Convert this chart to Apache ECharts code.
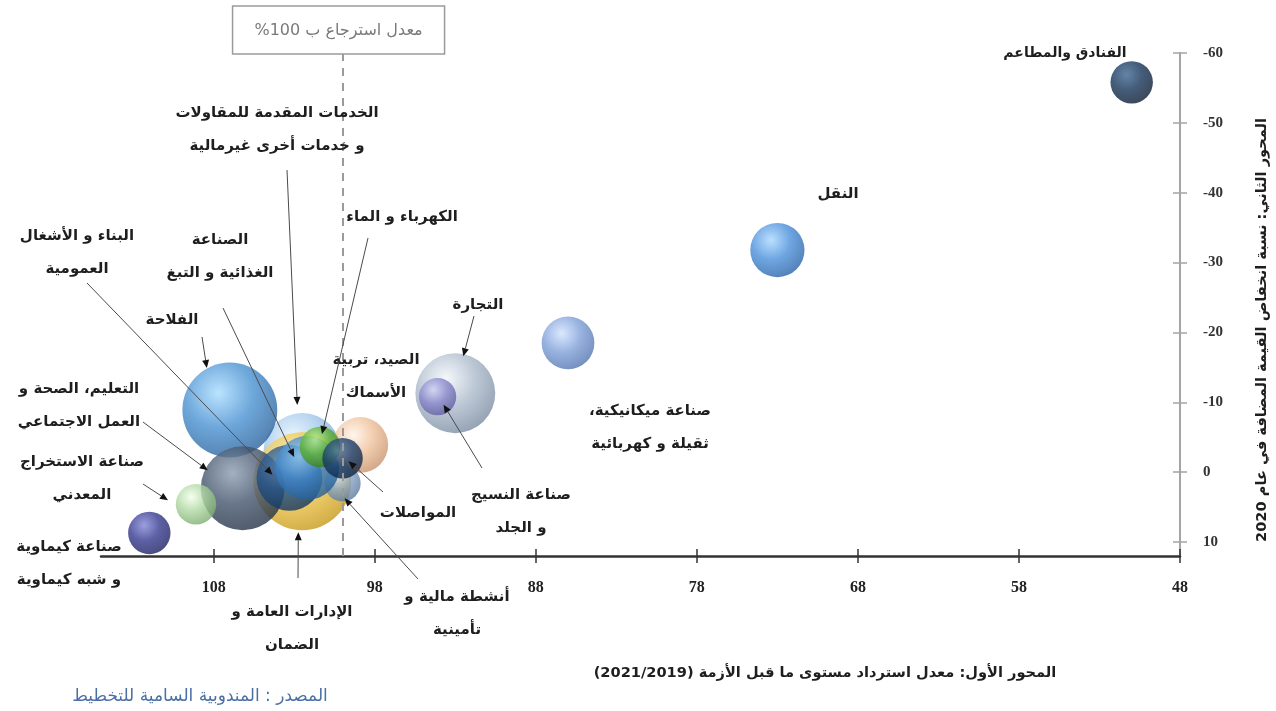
<!DOCTYPE html>
<html>
<head>
<meta charset="utf-8">
<script src="https://cdn.jsdelivr.net/npm/echarts@6/dist/echarts.min.js"></script>
<style>
  html, body { margin: 0; padding: 0; background: #ffffff; }
  #chart { width: 1276px; height: 711px; }
</style>
</head>
<body>
<div id="chart"></div>
<script>
// Sectors, listed in drawing order (back to front)
const sectors = [
  'الخدمات المقدمة للمقاولات\nو خدمات أخرى غيرمالية',
  'الإدارات العامة و\nالضمان',
  'الفلاحة',
  'التعليم، الصحة و\nالعمل الاجتماعي',
  'البناء و الأشغال\nالعمومية',
  'أنشطة مالية و\nتأمينية',
  'الصناعة\nالغذائية و التبغ',
  'الصيد، تربية\nالأسماك',
  'الكهرباء و الماء',
  'المواصلات',
  'صناعة الاستخراج\nالمعدني',
  'صناعة كيماوية\nو شبه كيماوية',
  'التجارة',
  'صناعة النسيج\nو الجلد',
  'صناعة ميكانيكية،\nثقيلة و كهربائية',
  'النقل',
  'الفنادق والمطاعم'
];
// First axis: recovery of the pre-crisis level, 2021/2019 (%)
const recovery = [102.5, 102.5, 107.0, 106.2, 103.3, 100.0, 102.2, 98.9, 101.4, 100.0, 109.1, 112.0, 93.0, 94.1, 86.0, 73.0, 51.0];
// Second axis: change in value added in 2020 (%)
const decline = [-2.9, 1.3, -8.9, 2.3, 0.8, 1.6, -0.6, -3.9, -3.6, -2.0, 4.6, 8.7, -11.3, -10.8, -18.5, -31.8, -55.8];
// Bubble weight of each sector
const weight = [7.4, 11.7, 11.0, 8.6, 5.3, 1.6, 5.0, 3.8, 2.0, 2.0, 2.0, 2.2, 7.8, 1.7, 3.4, 3.6, 2.2];
const xTicks = [108, 98, 88, 78, 68, 58, 48];
const yTicks = [-60, -50, -40, -30, -20, -10, 0, 10];
const recoveryRef = 100;
const refText = 'معدل استرجاع ب 100%';
const xTitle = 'المحور الأول: معدل استرداد مستوى ما قبل الأزمة (2021/2019)';
const yTitle = 'المحور الثاني: نسبة انخفاض القيمة المضافة في عام 2020';
const sourceText = 'المصدر : المندوبية السامية للتخطيط';

// Sphere shading per sector: [base, highlight, rim]
const palette = [
  ['#a4c9ec', '#e8f5ff', '#6e9cc8'],
  ['#f0c74c', '#fff3b4', '#c69818'],
  ['#4a92d2', '#aadcff', '#28609a'],
  ['#44556d', '#8d9db2', '#243246'],
  ['#23538a', '#5786b8', '#12365c'],
  ['#86a4c4', '#d2e2f2', '#5a789a'],
  ['#3f86cb', '#95cdf6', '#235c94'],
  ['#efc09a', '#fff3e8', '#c6926c'],
  ['#5db232', '#bcf28e', '#387c1a'],
  ['#1a3f6c', '#5279a6', '#0c2442'],
  ['#add6a0', '#f2ffea', '#7cab6f'],
  ['#35398e', '#8287d8', '#1d2060'],
  ['#aebccd', '#f3f7fb', '#7a8ba0'],
  ['#8a88cc', '#d3d3f5', '#5e5d9f'],
  ['#7fa0d8', '#d2e2ff', '#5272ae'],
  ['#4a8fda', '#a9d8ff', '#2962a6'],
  ['#163459', '#3e6690', '#0a1a31']
];

// Label placement (pixels) and arrow tails; arrow heads are offset from the bubble centre
const layout = [
  { x: 277, y: 113, from: [287, 170], off: [-5, -47] },
  { x: 292, y: 612, from: [298, 578], off: [-4, 51] },
  { x: 172, y: 320, from: [202, 337], off: [-23, -42] },
  { x: 79, y: 389, from: [143, 422], off: [-35, -18] },
  { x: 77, y: 236, from: [87, 283], off: [-17, -3] },
  { x: 457, y: 597, from: [418, 579], off: [2, 15] },
  { x: 220, y: 240, from: [223, 308], off: [-13, -11] },
  { x: 376, y: 360 },
  { x: 402, y: 217, from: [368, 238], off: [2, -13] },
  { x: 418, y: 513, from: [383, 492], off: [6, 3] },
  { x: 82, y: 462, from: [143, 484], off: [-28, -4] },
  { x: 69, y: 547 },
  { x: 478, y: 305, from: [474, 316], off: [8, -37] },
  { x: 521, y: 495, from: [482, 468], off: [6, 8] },
  { x: 650, y: 411 },
  { x: 838, y: 194 },
  { x: 1065, y: 53, size: 14 }
];

const AR_FONT = '"DejaVu Sans", sans-serif';
const NUM_FONT = '"Liberation Serif", "DejaVu Serif", serif';
const LINE_H = 33;
const rtl = s => s.split('\n').map(l => '\u202B' + l + '\u202C').join('\n');

function sphere(c) {
  return new echarts.graphic.RadialGradient(0.38, 0.32, 0.72, [
    { offset: 0, color: c[1] },
    { offset: 0.5, color: c[0] },
    { offset: 1, color: c[2] }
  ]);
}

const points = sectors.map((name, i) => ({
  name: name,
  value: [recovery[i], decline[i], weight[i]],
  itemStyle: { color: sphere(palette[i]) }
}));

const bubbleScale = 28.6;
const xBase = { type: 'value', min: 48, max: 115, inverse: true, position: 'bottom', splitLine: { show: false } };
const yBase = { type: 'value', min: -60, max: 12, inverse: true, position: 'right', splitLine: { show: false } };

const chart = echarts.init(document.getElementById('chart'));
chart.setOption({
  animation: false,
  grid: { left: 101, right: 96, top: 53, bottom: 155 },
  xAxis: [
    Object.assign({}, xBase, {
      axisLine: { onZero: false, lineStyle: { color: '#333333', width: 2.5 } },
      axisTick: { customValues: xTicks, length: 7, lineStyle: { color: '#333333', width: 1.5 } },
      axisLabel: { customValues: xTicks, margin: 24, color: '#222', fontFamily: NUM_FONT, fontWeight: 'bold', fontSize: 16 }
    }),
    Object.assign({}, xBase, {
      axisLine: { show: false, onZero: false },
      axisTick: { customValues: xTicks, inside: true, length: 7, lineStyle: { color: '#333333', width: 1.5 } },
      axisLabel: { show: false }
    })
  ],
  yAxis: [
    Object.assign({}, yBase, {
      axisLine: { onZero: false, lineStyle: { color: '#a4a4a4', width: 2 } },
      axisTick: { customValues: yTicks, length: 7, lineStyle: { color: '#a4a4a4', width: 1.5 } },
      axisLabel: { customValues: yTicks, margin: 23, color: '#333', fontFamily: NUM_FONT, fontWeight: 'bold', fontSize: 15 }
    }),
    Object.assign({}, yBase, {
      axisLine: { show: false, onZero: false },
      axisTick: { customValues: yTicks, inside: true, length: 7, lineStyle: { color: '#a4a4a4', width: 1.5 } },
      axisLabel: { show: false }
    })
  ],
  series: [{
    type: 'scatter',
    xAxisIndex: 0,
    yAxisIndex: 0,
    silent: true,
    data: points,
    symbolSize: v => bubbleScale * Math.sqrt(v[2]),
    markLine: {
      silent: true,
      symbol: 'none',
      label: { show: false },
      lineStyle: { type: [8, 7], color: '#9a9a9a', width: 2 },
      data: [{ xAxis: recoveryRef }]
    }
  }]
});

// Labels, leader arrows and titles
const g = [];
layout.forEach((L, i) => {
  g.push({
    type: 'text', z: 10,
    x: L.x, y: L.y - LINE_H / 2,
    style: {
      text: rtl(sectors[i]), font: 'bold ' + (L.size || 15) + 'px ' + AR_FONT, fill: '#1e1e1e',
      align: 'center', verticalAlign: 'top', lineHeight: LINE_H
    }
  });
  if (!L.from) return;
  const c = chart.convertToPixel({ seriesIndex: 0 }, [recovery[i], decline[i]]);
  const ex = c[0] + L.off[0], ey = c[1] + L.off[1];
  const sx = L.from[0], sy = L.from[1];
  const len = Math.hypot(ex - sx, ey - sy);
  const dx = (ex - sx) / len, dy = (ey - sy) / len;
  const hl = 8, hw = 3.5;
  const bx = ex - dx * hl, by = ey - dy * hl;
  g.push({ type: 'line', z: 11, shape: { x1: sx, y1: sy, x2: bx, y2: by }, style: { stroke: '#4a4a4a', lineWidth: 1 } });
  g.push({
    type: 'polygon', z: 11,
    shape: { points: [[ex, ey], [bx - dy * hw, by + dx * hw], [bx + dy * hw, by - dx * hw]] },
    style: { fill: '#111' }
  });
});

const refX = chart.convertToPixel({ xAxisIndex: 0 }, recoveryRef) - 4;
g.push({ type: 'rect', z: 12, shape: { x: refX - 106, y: 6, width: 212, height: 48 }, style: { fill: '#fff', stroke: '#9a9a9a', lineWidth: 1.5 } });
g.push({ type: 'text', z: 13, x: refX, y: 31, style: { text: rtl(refText), font: '16px ' + AR_FONT, fill: '#7a7a7a', align: 'center', verticalAlign: 'middle' } });
g.push({ type: 'text', z: 10, x: 825, y: 673, style: { text: rtl(xTitle), font: 'bold 14.6px ' + AR_FONT, fill: '#1e1e1e', align: 'center', verticalAlign: 'middle' } });
g.push({ type: 'text', z: 10, x: 1262, y: 330, rotation: Math.PI / 2, style: { text: rtl(yTitle), font: 'bold 14.6px ' + AR_FONT, fill: '#1e1e1e', align: 'center', verticalAlign: 'middle' } });
g.push({ type: 'text', z: 10, x: 200, y: 697, style: { text: rtl(sourceText), font: '17px ' + AR_FONT, fill: '#4a6fa5', align: 'center', verticalAlign: 'middle' } });

chart.setOption({ graphic: g });
</script>
</body>
</html>
